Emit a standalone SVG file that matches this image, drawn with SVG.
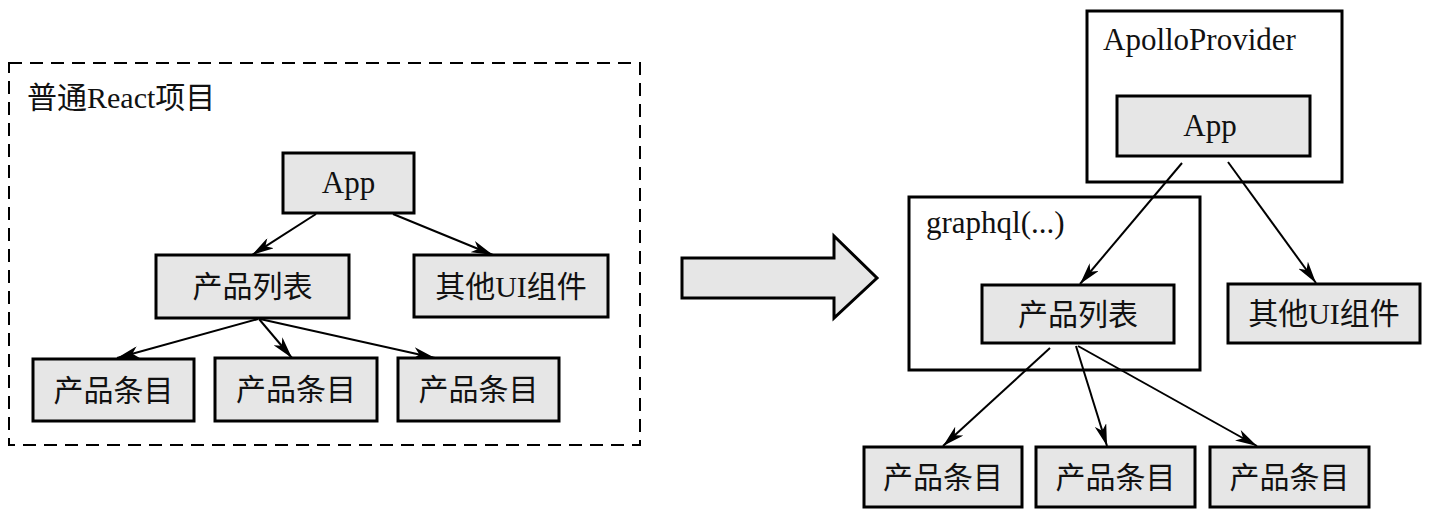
<svg xmlns="http://www.w3.org/2000/svg" width="1429" height="516" viewBox="0 0 1429 516">
<defs>
<style>
.box{fill:#e6e6e6;stroke:#000;stroke-width:3}
.frame{fill:none;stroke:#000;stroke-width:3}
.dash{fill:none;stroke:#000;stroke-width:2;stroke-dasharray:13 8}
.t{font-family:"Liberation Serif","Noto Sans CJK SC",serif;font-size:30px;fill:#111}
.l{font-size:31px}
.c{text-anchor:middle;dominant-baseline:central}
.edge{fill:none;stroke:#000;stroke-width:2;marker-end:url(#ah)}
</style>
<marker id="ah" markerUnits="userSpaceOnUse" markerWidth="24" markerHeight="12" refX="22" refY="6" orient="auto">
<path d="M0,0 L22,6 L0,12 L6,6 z" fill="#000"/>
</marker>
</defs>
<rect width="1429" height="516" fill="#fff"/>

<g id="left-project">
<rect class="dash" x="9" y="63" width="631" height="382"/>
<text class="t" x="27" y="97" dominant-baseline="central">普通React项目</text>
</g>
<g id="l-app"><rect class="box" x="283" y="153" width="131" height="60"/><text class="t l c" x="348.5" y="182">App</text></g>
<g id="l-list"><rect class="box" x="156" y="255" width="193" height="63"/><text class="t c" x="252.5" y="286.5">产品列表</text></g>
<g id="l-other"><rect class="box" x="414" y="255" width="194" height="62"/><text class="t c" x="511" y="286">其他UI组件</text></g>
<g id="l-item1"><rect class="box" x="33" y="359" width="161" height="62"/><text class="t c" x="113.5" y="390">产品条目</text></g>
<g id="l-item2"><rect class="box" x="215" y="358" width="162" height="63"/><text class="t c" x="296" y="389.5">产品条目</text></g>
<g id="l-item3"><rect class="box" x="398" y="358" width="161" height="63"/><text class="t c" x="478.5" y="389.5">产品条目</text></g>

<g id="transform-arrow">
<polygon class="box" points="682,258 834,258 834,236 877,278 834,318 834,298 682,298"/>
</g>

<g id="r-apollo">
<rect class="frame" x="1087" y="11" width="255" height="171"/>
<text class="t l" x="1103" y="50">ApolloProvider</text>
</g>
<g id="r-app"><rect class="box" x="1117" y="96" width="193" height="60"/><text class="t l c" x="1210" y="125">App</text></g>
<g id="r-graphql">
<rect class="frame" x="909" y="197" width="291" height="173"/>
<text class="t l" x="926" y="233">graphql(...)</text>
</g>
<g id="r-list"><rect class="box" x="982" y="285" width="192" height="58"/><text class="t c" x="1078" y="314">产品列表</text></g>
<g id="r-other"><rect class="box" x="1228" y="284" width="192" height="59"/><text class="t c" x="1324" y="313.5">其他UI组件</text></g>
<g id="r-item1"><rect class="box" x="864" y="447" width="158" height="60"/><text class="t c" x="943" y="477">产品条目</text></g>
<g id="r-item2"><rect class="box" x="1036" y="447" width="159" height="60"/><text class="t c" x="1115.5" y="477">产品条目</text></g>
<g id="r-item3"><rect class="box" x="1210" y="447" width="159" height="60"/><text class="t c" x="1289.5" y="477">产品条目</text></g>

<g id="connectors">
<line class="edge" x1="316" y1="214" x2="252" y2="255"/>
<line class="edge" x1="393" y1="214" x2="493" y2="255"/>
<line class="edge" x1="258" y1="319" x2="117" y2="358"/>
<line class="edge" x1="259" y1="319" x2="292" y2="358"/>
<line class="edge" x1="260" y1="319" x2="435" y2="358"/>
<line class="edge" x1="1182" y1="163" x2="1080" y2="284"/>
<line class="edge" x1="1228" y1="162" x2="1316" y2="283"/>
<line class="edge" x1="1050" y1="348" x2="943" y2="446"/>
<line class="edge" x1="1076" y1="346" x2="1107" y2="446"/>
<line class="edge" x1="1078" y1="346" x2="1257" y2="446"/>
</g>
</svg>
